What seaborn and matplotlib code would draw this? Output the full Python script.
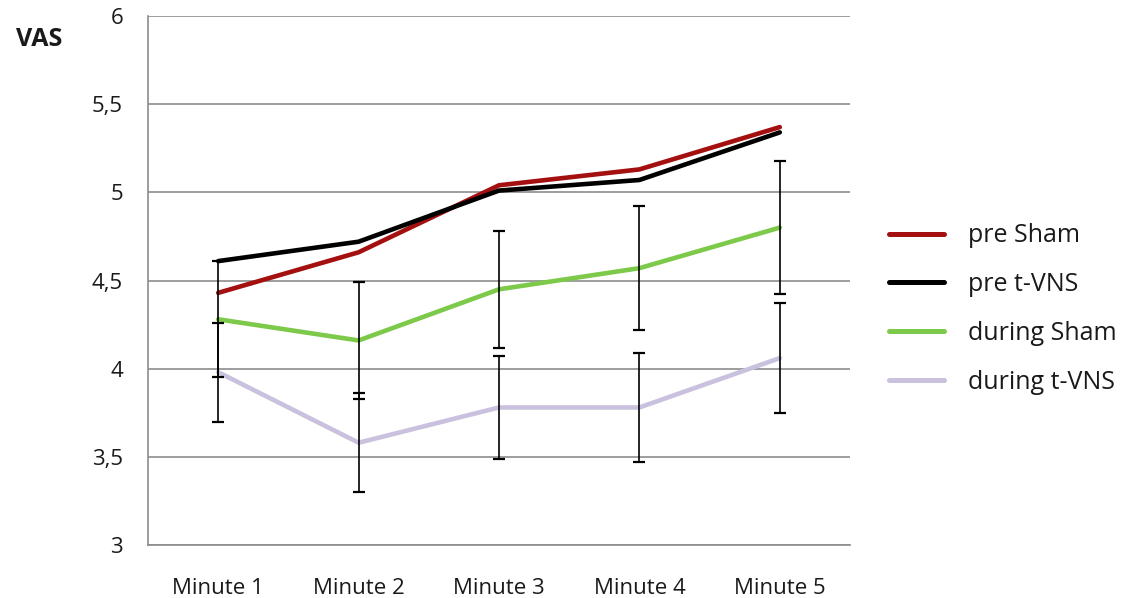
import matplotlib
matplotlib.use("Agg")
import matplotlib.pyplot as plt
from matplotlib.lines import Line2D
import seaborn as sns
import pandas as pd
import numpy as np

minutes = ["Minute 1", "Minute 2", "Minute 3", "Minute 4", "Minute 5"]
pre_sham = [4.43, 4.66, 5.04, 5.13, 5.37]
pre_tvns = [4.61, 4.72, 5.01, 5.07, 5.34]
during_sham = [4.28, 4.16, 4.45, 4.57, 4.80]
during_tvns = [3.98, 3.58, 3.78, 3.78, 4.06]
during_sham_err = [0.33, 0.33, 0.33, 0.35, 0.375]
during_tvns_err = [0.28, 0.28, 0.29, 0.31, 0.31]

series_names = ["pre Sham", "pre t-VNS", "during Sham", "during t-VNS"]
series_values = [pre_sham, pre_tvns, during_sham, during_tvns]
colors = ["#A3100F", "#000000", "#7DC94A", "#C9C1DD"]
yticks = [3, 3.5, 4, 4.5, 5, 5.5, 6]
ytick_labels = ["3", "3,5", "4", "4,5", "5", "5,5", "6"]

df = pd.DataFrame({
    "Minute": minutes * len(series_names),
    "VAS": [v for vals in series_values for v in vals],
    "Group": [n for n in series_names for _ in minutes],
})

sns.set_style("white")
plt.rcParams["font.family"] = ["Open Sans", "DejaVu Sans"]

text_col = "#1a1a1a"
grid_col = "#8C8C8C"

fig = plt.figure(figsize=(11.36, 5.98), dpi=100)
ax = fig.add_axes([148 / 1136, 1 - 545 / 598, (850 - 148) / 1136, (545 - 16) / 598])

for y in yticks:
    ax.axhline(y, color=grid_col, lw=1.2, zorder=0)

sns.lineplot(data=df, x="Minute", y="VAS", hue="Group", hue_order=series_names,
             palette=colors, linewidth=3.3, sort=False, ax=ax, legend=False,
             zorder=2)

xpos = np.arange(len(minutes))
for vals, errs in [(during_sham, during_sham_err), (during_tvns, during_tvns_err)]:
    ax.errorbar(xpos, vals, yerr=errs, fmt="none", ecolor="black",
                elinewidth=1.2, capsize=4.5, capthick=1.6, zorder=3)

ax.set_xlim(-0.5, len(minutes) - 0.5)
ax.set_ylim(3, 6)
ax.set_yticks(yticks)
ax.set_yticklabels(ytick_labels)
ax.set_xticks(xpos)
ax.set_xticklabels(minutes)
ax.set_xlabel("")
ax.set_ylabel("")

# category boundary ticks on the x axis
ax.set_xticks(np.arange(len(minutes) + 1) - 0.5, minor=True)
ax.tick_params(axis="x", which="major", length=0, pad=24, labelsize=16, labelcolor=text_col)
ax.tick_params(axis="x", which="minor", length=6, width=1.2, color=grid_col, direction="out")
ax.tick_params(axis="y", which="major", length=6, width=1.2, color=grid_col, direction="out",
               pad=12, labelsize=16, labelcolor=text_col)

for side in ["top", "right"]:
    ax.spines[side].set_visible(False)
for side in ["left", "bottom"]:
    ax.spines[side].set_color(grid_col)
    ax.spines[side].set_linewidth(1.2)

fig.text(16 / 1136, 1 - 40 / 598, "VAS", fontsize=18, fontweight="bold",
         va="center", ha="left", color=text_col)

# legend on the right
handles = [Line2D([0], [0], color=c, lw=3.6) for c in colors]
fig.legend(handles, series_names, loc="center left",
           bbox_to_anchor=(866 / 1136, 1 - 309 / 598), frameon=False,
           fontsize=18, handlelength=2.2, handletextpad=1.0, labelspacing=0.95,
           labelcolor=text_col)

fig.savefig("out.png", dpi=100)
